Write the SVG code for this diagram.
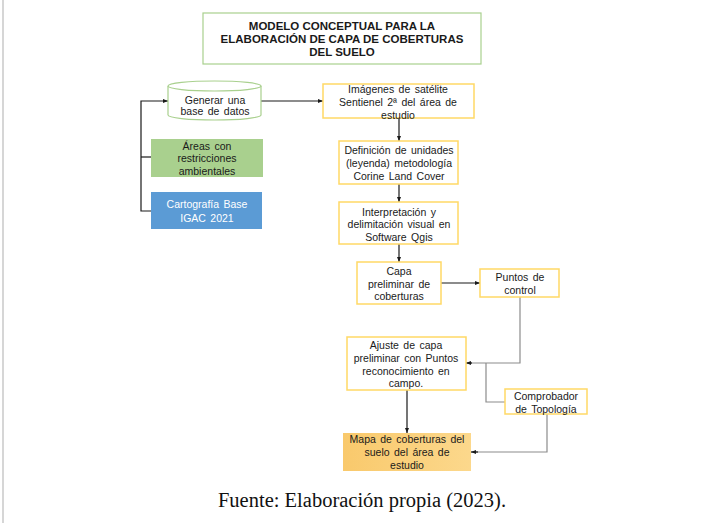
<svg xmlns="http://www.w3.org/2000/svg" width="718" height="523" viewBox="0 0 718 523">
<defs>
<marker id="ah" viewBox="0 0 10 10" refX="10" refY="5" markerWidth="5" markerHeight="5" orient="auto" markerUnits="userSpaceOnUse">
<path d="M0,1 L10,5 L0,9 Z" fill="#1a1a1a"/>
</marker>
<linearGradient id="og" x1="0" y1="0" x2="1" y2="0">
<stop offset="0" stop-color="#f9c96c"/>
<stop offset="1" stop-color="#fcd88c"/>
</linearGradient>
</defs>
<style>
text{font-family:"Liberation Sans",Arial,sans-serif;font-size:10.5px;fill:#1a1a1a;text-anchor:middle;word-spacing:1.5px}
.t{font-weight:bold;font-size:11.5px;word-spacing:0}
.w{fill:#ffffff}
.cap{font-family:"Liberation Serif","Times New Roman",serif;font-size:20.5px;fill:#111;word-spacing:0}
.y{fill:#ffffff;stroke:#ffd966;stroke-width:1.5}
.c{fill:none;stroke:#1a1a1a;stroke-width:1.2}
.g{fill:none;stroke:#8c8c8c;stroke-width:1.2}
</style>
<rect width="718" height="523" fill="#ffffff"/>
<line x1="3" y1="0" x2="3" y2="523" stroke="#d6d6d6" stroke-width="2"/>

<g id="title">
<rect x="203" y="13" width="278" height="51" fill="#ffffff" stroke="#a9d08e" stroke-width="1.2"/>
<text class="t" x="342" y="30">MODELO CONCEPTUAL PARA LA</text>
<text class="t" x="342" y="43">ELABORACIÓN DE CAPA DE COBERTURAS</text>
<text class="t" x="342" y="56">DEL SUELO</text>
</g>

<g id="connectors">
<line class="c" x1="261" y1="101" x2="323" y2="101" marker-end="url(#ah)"/>
<polyline class="c" points="151,211 141,211 141,101 168,101" marker-end="url(#ah)"/>
<line class="c" x1="141" y1="157" x2="151" y2="157"/>
<line class="c" x1="399" y1="118" x2="399" y2="141" marker-end="url(#ah)"/>
<line class="c" x1="399" y1="184" x2="399" y2="202" marker-end="url(#ah)"/>
<line class="c" x1="399" y1="244" x2="399" y2="262" marker-end="url(#ah)"/>
<line class="c" x1="441" y1="283" x2="480" y2="283" marker-end="url(#ah)"/>
<polyline class="g" points="520,297 520,363 470,363"/>
<line class="c" x1="472" y1="363" x2="466" y2="363" marker-end="url(#ah)"/>
<polyline class="g" points="505,402 486,402 486,363"/>
<line class="c" x1="407" y1="390" x2="407" y2="433" marker-end="url(#ah)"/>
<polyline class="g" points="547,414 547,452 476,452"/>
<line class="c" x1="478" y1="452" x2="471" y2="452" marker-end="url(#ah)"/>
</g>

<g id="db">
<path d="M168,86 L168,115 A46.5,5 0 0 0 261,115 L261,86" fill="#ffffff" stroke="#a9d08e" stroke-width="1.2"/>
<ellipse cx="214.5" cy="86" rx="46.5" ry="5" fill="#ffffff" stroke="#a9d08e" stroke-width="1.2"/>
<text x="215" y="104">Generar una</text>
<text x="215" y="115">base de datos</text>
</g>

<g id="areas">
<rect x="151" y="139" width="112" height="38" fill="#a9d08e"/>
<text x="207" y="150">Áreas con</text>
<text x="207" y="162">restricciones</text>
<text x="207" y="175">ambientales</text>
</g>

<g id="carto">
<rect x="151" y="192" width="111" height="37" fill="#5b9bd5"/>
<text class="w" x="207" y="208">Cartografía Base</text>
<text class="w" x="207" y="222">IGAC 2021</text>
</g>

<g id="imagenes">
<rect class="y" x="323" y="84" width="151" height="34"/>
<text x="398" y="93">Imágenes de satélite</text>
<text x="398" y="106">Sentienel 2ª del área de</text>
<text x="398" y="119">estudio</text>
</g>

<g id="definicion">
<rect class="y" x="339" y="141" width="119" height="43"/>
<text x="399" y="154">Definición de unidades</text>
<text x="399" y="167">(leyenda) metodología</text>
<text x="399" y="180">Corine Land Cover</text>
</g>

<g id="interpretacion">
<rect class="y" x="339" y="202" width="119" height="42"/>
<text x="399" y="216">Interpretación y</text>
<text x="399" y="228">delimitación visual en</text>
<text x="399" y="241">Software Qgis</text>
</g>

<g id="capa">
<rect class="y" x="357" y="262" width="84" height="42"/>
<text x="399" y="275">Capa</text>
<text x="399" y="288">preliminar de</text>
<text x="399" y="300">coberturas</text>
</g>

<g id="puntos">
<rect class="y" x="480" y="269" width="79" height="28"/>
<text x="520" y="281">Puntos de</text>
<text x="520" y="294">control</text>
</g>

<g id="ajuste">
<rect class="y" x="347" y="337" width="119" height="53"/>
<text x="406" y="349">Ajuste de capa</text>
<text x="406" y="362">preliminar con Puntos</text>
<text x="406" y="375">reconocimiento en</text>
<text x="406" y="387">campo.</text>
</g>

<g id="comprobador">
<rect class="y" x="505" y="389" width="82" height="25"/>
<text x="546" y="400">Comprobador</text>
<text x="546" y="413">de Topología</text>
</g>

<g id="mapa">
<rect x="343" y="433" width="128" height="38" fill="url(#og)"/>
<text x="407" y="443">Mapa de coberturas del</text>
<text x="407" y="456">suelo del área de</text>
<text x="407" y="469">estudio</text>
</g>

<text class="cap" x="362" y="507">Fuente: Elaboración propia (2023).</text>
</svg>
